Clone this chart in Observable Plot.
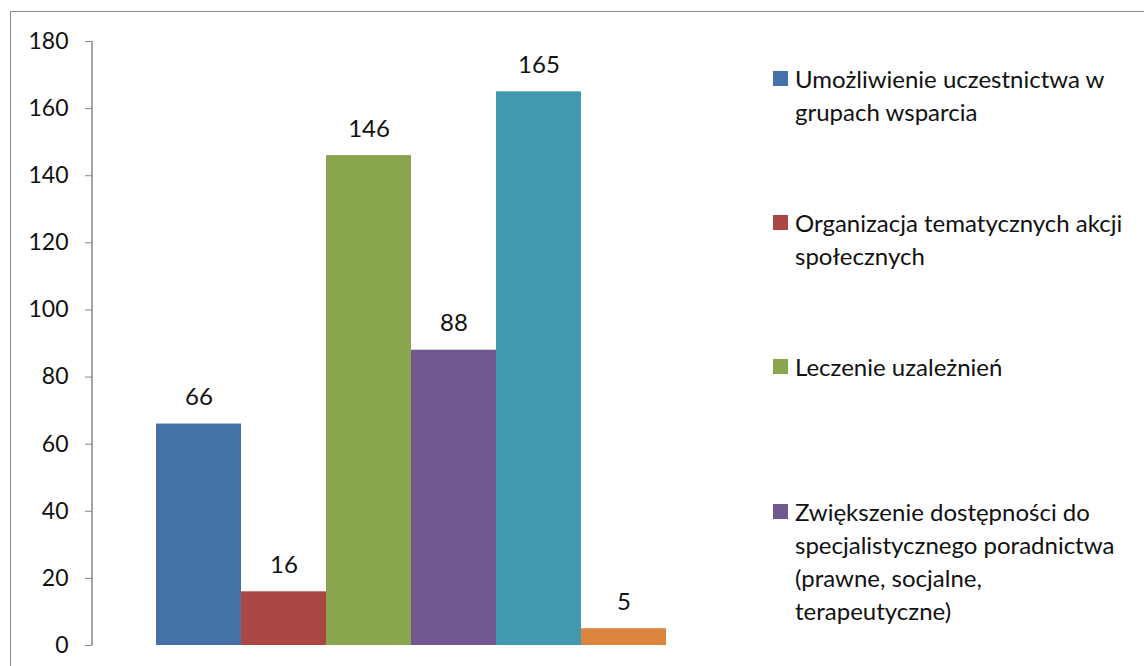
<!DOCTYPE html>
<html>
<head>
<meta charset="utf-8">
<script src="https://cdn.jsdelivr.net/npm/d3@7"></script>
<script src="https://cdn.jsdelivr.net/npm/@observablehq/plot@0.6"></script>
<style>
  html, body { margin: 0; padding: 0; background: #fff; overflow: hidden; }
  #wrap { position: relative; width: 1144px; height: 666px; font-family: Lato, "Open Sans", sans-serif; }
  #frame { position: absolute; left: 10px; top: 11px; width: 1300px; height: 800px;
           border-left: 1.5px solid #8c8c8c; border-top: 1.5px solid #8c8c8c; }
  #chart { position: absolute; left: 0; top: 0; }
  #legend { position: absolute; left: 773px; top: 62px; width: 362px; }
  .item { position: relative; padding-left: 22px; font-size: 24px; line-height: 33px; color: #111; }
  .sw { position: absolute; left: 0; top: 9px; width: 15px; height: 15px; }
</style>
</head>
<body>
<div id="wrap">
  <div id="frame"></div>
  <div id="chart"></div>
  <div id="legend"></div>
</div>
<script>
// Data
const categories = [
  "Umożliwienie uczestnictwa w grupach wsparcia",
  "Organizacja tematycznych akcji społecznych",
  "Leczenie uzależnień",
  "Zwiększenie dostępności do specjalistycznego poradnictwa (prawne, socjalne, terapeutyczne)",
  "Kategoria 5",
  "Kategoria 6"
];
const values = [66, 16, 146, 88, 165, 5];
const colors = ["#4572A7", "#AA4643", "#89A54E", "#71588F", "#4198AF", "#DB843D"];
const yTicks = [0, 20, 40, 60, 80, 100, 120, 140, 160, 180];
const legendCount = 4; // only the first four entries are visible in the original

const data = categories.map((c, i) => ({category: c, value: values[i]}));

const chart = Plot.plot({
  width: 1144,
  height: 666,
  marginTop: 41,
  marginBottom: 21,
  marginLeft: 92,
  marginRight: 414,
  style: {fontFamily: "Lato, 'Open Sans', sans-serif", fontSize: "23px", color: "#111", background: "transparent"},
  x: {domain: categories, axis: null, paddingInner: 0, paddingOuter: 0.753, round: false},
  y: {domain: [0, 180], ticks: yTicks, label: null},
  color: {domain: categories, range: colors},
  marks: [
    Plot.barY(data, {x: "category", y: "value", fill: "category"}),
    Plot.text(data, {x: "category", y: "value", text: d => String(d.value), lineAnchor: "bottom", dy: -19, fill: "#111", fontSize: 24}),
    Plot.axisY({ticks: yTicks, tickSize: 7, tickPadding: 17, stroke: "#868686", fill: "#111", label: null, fontSize: 23})
  ]
});
document.getElementById("chart").appendChild(chart);

// axis line on the left edge of the plot area, positioned via the y scale
const yScale = chart.scale("y");
d3.select(chart).append("line")
  .attr("x1", 92).attr("x2", 92)
  .attr("y1", yScale.apply(180)).attr("y2", yScale.apply(0))
  .attr("stroke", "#868686").attr("stroke-width", 1.5);

// legend (only the first four entries fit in the original)
const legend = d3.select("#legend");
categories.slice(0, legendCount).forEach((c, i) => {
  const item = legend.append("div").attr("class", "item")
    .style("margin-bottom", i < legendCount - 1 ? (i === 2 ? "112px" : "78px") : "0");
  item.append("span").attr("class", "sw").style("background", colors[i]);
  item.append("span").text(c);
});
</script>
</body>
</html>
